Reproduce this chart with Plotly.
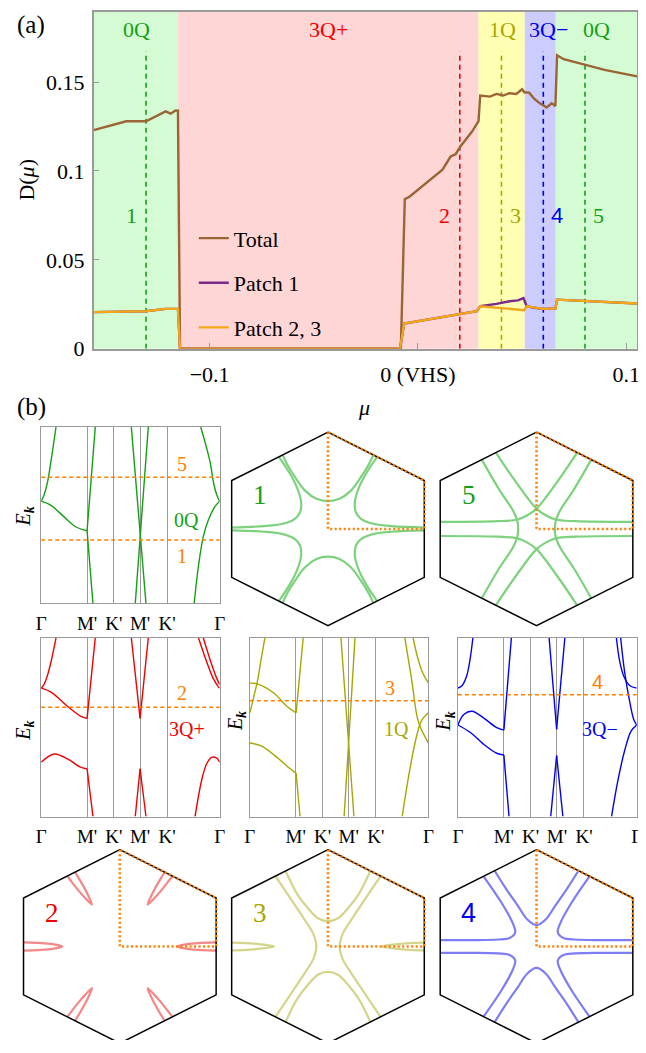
import plotly.graph_objects as go

W, H = 646, 1053          # window size
OFF = 8                   # page margin of the browser around the figure
FW, FH = W - OFF, H - OFF  # figure size
SERIF = "'Liberation Serif', 'Times New Roman', Times, 'DejaVu Serif', serif"
SANS = "'Liberation Sans', Arial, 'DejaVu Sans', sans-serif"

# ---------------- colours ----------------
FG = {"0Q": "#14a014", "3Q+": "#f00000", "1Q": "#a8a600", "3Q\u2212": "#0000f0"}
BG = {"0Q": "#d5fbd5", "3Q+": "#ffd6d6", "1Q": "#ffffb3", "3Q\u2212": "#ccccff"}
FS = {"0Q": "rgb(125,210,125)", "3Q+": "rgb(245,135,135)", "1Q": "rgb(212,212,140)", "3Q\u2212": "rgb(125,125,245)"}
ORANGE = "#ff8000"
FRAME = "#9a9a9a"
C_TOTAL, C_P1, C_P23 = "#9a6434", "#7a2a8a", "#f2a71b"

# ---------------- panel (a) data ----------------
phase_names = ["0Q", "3Q+", "1Q", "3Q\u2212", "0Q"]
phase_edges = [-0.1557, -0.1151, 0.0291, 0.0513, 0.0662, 0.1052]
phase_label_mu = [-0.1352, -0.0429, 0.0406, 0.0625, 0.0858]
mark_labels = ["1", "2", "3", "4", "5"]
mark_phase = ["0Q", "3Q+", "1Q", "3Q\u2212", "0Q"]
mark_mu = [-0.1305, 0.0201, 0.0401, 0.0602, 0.0802]
mark_label_mu = [-0.1375, 0.0126, 0.0467, 0.0668, 0.0868]
mark_top = 0.1672

total_mu = [-0.1557, -0.1400, -0.1305, -0.1211, -0.1187, -0.1164, -0.1152, -0.1142,
            -0.0082, -0.0063, -0.0039, 0.0071, 0.0118, 0.0157, 0.0181, 0.0204, 0.0259,
            0.0291, 0.0299, 0.0346, 0.0377, 0.0409, 0.0440, 0.0472, 0.0500, 0.0511,
            0.0534, 0.0558, 0.0582, 0.0618, 0.0642, 0.0660, 0.0668, 0.0700, 0.0896, 0.1052]
total_D = [0.1229, 0.1279, 0.1279, 0.1335, 0.1322, 0.1340, 0.1339, 0.0,
           0.0, 0.0841, 0.0856, 0.0961, 0.1007, 0.1081, 0.1094, 0.1137, 0.1220,
           0.1280, 0.1424, 0.1418, 0.1433, 0.1424, 0.1437, 0.1433, 0.1459, 0.1442,
           0.1440, 0.1406, 0.1383, 0.1357, 0.1380, 0.1365, 0.1650, 0.1628, 0.1568, 0.1532]

p23_mu = [-0.1557, -0.1307, -0.1211, -0.1152, -0.1142, -0.0086, -0.0066, 0.0283, 0.0299,
          0.0511, 0.0522, 0.0558, 0.0598, 0.0660, 0.0668, 0.1052]
p23_D = [0.0206, 0.0211, 0.0224, 0.0224, 0.0, 0.0, 0.0141, 0.0211, 0.0239,
         0.0217, 0.0239, 0.0230, 0.0224, 0.0226, 0.0276, 0.0254]

p1_mu = [-0.1557, -0.1307, -0.1211, -0.1152, -0.1142, -0.0086, -0.0066, 0.0283, 0.0299,
         0.0377, 0.0440, 0.0480, 0.0507, 0.0522, 0.0558, 0.0598, 0.0660, 0.0668, 0.1052]
p1_D = [0.0206, 0.0211, 0.0224, 0.0224, 0.0, 0.0, 0.0141, 0.0211, 0.0239,
        0.0252, 0.0267, 0.0272, 0.0285, 0.0239, 0.0230, 0.0224, 0.0226, 0.0276, 0.0254]

x_ticks = [-0.1, 0.0, 0.1]
x_ticktext = ["\u22120.1", "0 (VHS)", "0.1"]
y_ticks = [0.0, 0.05, 0.1, 0.15]
y_ticktext = ["0", "0.05", "0.1", "0.15"]

# ---------------- band structure data (path fraction s, energy e) ----------------
path_ticks = [0.0, 0.257, 0.407, 0.554, 0.705, 1.0]
path_labels = ["\u0393", "M'", "K'", "M'", "K'", "\u0393"]

bands_0Q = [
    ([0, 0.015, 0.033, 0.055, 0.083], [0.58, 0.612, 0.677, 0.808, 1.0]),
    ([0, 0.055, 0.128, 0.193, 0.257], [0.58, 0.556, 0.491, 0.435, 0.412]),
    ([0.257, 0.303], [0.412, 1.0]),
    ([0.257, 0.290], [0.412, 0.0]),
    ([0.505, 0.587], [1.0, 0.0]),
    ([0.600, 0.527], [1.0, 0.0]),
    ([1.0, 0.985, 0.967, 0.945, 0.894], [0.58, 0.612, 0.677, 0.808, 1.0]),
    ([1.0, 0.972, 0.936, 0.908, 0.881, 0.857], [0.58, 0.547, 0.472, 0.379, 0.211, 0.0]),
]
levels_0Q = [0.715, 0.360]

bands_3Qp = [
    ([0, 0.015, 0.033, 0.055, 0.083], [0.718, 0.737, 0.783, 0.866, 1.0]),
    ([0, 0.055, 0.147, 0.220, 0.257], [0.718, 0.696, 0.617, 0.562, 0.549]),
    ([0.257, 0.303], [0.549, 1.0]),
    ([0, 0.073, 0.147, 0.220, 0.257], [0.304, 0.350, 0.322, 0.276, 0.267]),
    ([0.257, 0.290], [0.267, 0.0]),
    ([0.505, 0.554], [1.0, 0.549]),
    ([0.554, 0.600], [0.549, 1.0]),
    ([0.527, 0.554], [0.0, 0.267]),
    ([0.554, 0.587], [0.267, 0.0]),
    ([0.881, 0.927, 0.963, 0.991, 1.0], [1.0, 0.866, 0.774, 0.728, 0.718]),
    ([0.908, 0.950, 0.982, 1.0], [1.0, 0.866, 0.777, 0.737]),
    ([0.862, 0.899, 0.927, 0.954, 0.982, 1.0], [0.0, 0.203, 0.295, 0.331, 0.328, 0.304]),
]
levels_3Qp = [0.611]

bands_1Q = [
    ([0, 0.042, 0.134, 0.207, 0.259], [0.746, 0.742, 0.691, 0.617, 0.580]),
    ([0, 0.018, 0.042, 0.061, 0.084], [0.580, 0.654, 0.755, 0.866, 1.0]),
    ([0, 0.061, 0.152, 0.226, 0.259], [0.411, 0.396, 0.331, 0.267, 0.243]),
    ([0.259, 0.299], [0.580, 1.0]),
    ([0.259, 0.281], [0.243, 0.0]),
    ([0.510, 0.583], [1.0, 0.0]),
    ([0.589, 0.528], [1.0, 0.0]),
    ([0.914, 0.941, 0.969, 1.0], [1.0, 0.884, 0.801, 0.746]),
    ([0.868, 0.905, 0.938, 0.960, 1.0], [1.0, 0.773, 0.552, 0.488, 0.411]),
    ([0.853, 0.895, 0.932, 0.960, 1.0], [0.0, 0.258, 0.442, 0.534, 0.580]),
]
levels_1Q = [0.648]

bands_3Qm = [
    ([0, 0.024, 0.048, 0.066, 0.084], [0.718, 0.733, 0.783, 0.866, 1.0]),
    ([0, 0.033, 0.079, 0.143, 0.217, 0.257], [0.512, 0.571, 0.589, 0.552, 0.497, 0.483]),
    ([0, 0.070, 0.143, 0.217, 0.257], [0.512, 0.470, 0.405, 0.354, 0.344]),
    ([0.257, 0.299], [0.483, 1.0]),
    ([0.257, 0.286], [0.344, 0.0]),
    ([0.510, 0.552], [1.0, 0.488]),
    ([0.552, 0.598], [0.488, 1.0]),
    ([0.519, 0.552], [0.0, 0.341]),
    ([0.552, 0.587], [0.341, 0.0]),
    ([0.886, 0.905, 0.928, 0.960, 1.0], [1.0, 0.866, 0.783, 0.733, 0.718]),
    ([0.910, 0.932, 0.960, 0.983, 1.0], [1.0, 0.810, 0.645, 0.543, 0.512]),
    ([0.859, 0.895, 0.932, 0.969, 1.0], [0.0, 0.203, 0.368, 0.479, 0.512]),
]
levels_3Qm = [0.681]

# ---------------- Fermi-surface data (hexagon units) ----------------
hex_u = [0, 1, 1, 0, -1, -1, 0]
hex_v = [1, 0.5, -0.5, -1, -0.5, 0.5, 1]
ibz_u = [0, 0, 1, 1, 0]
ibz_v = [1, 0, 0, 0.5, 1]

fs1_top_u = [0, 0.119, 0.238, 0.340, 0.425, 0.47]
fs1_top_v = [0.287, 0.311, 0.396, 0.532, 0.668, 0.765]
fs1_side_u = [0.51, 0.391, 0.316, 0.279, 0.289, 0.340, 0.459, 0.663, 1.0]
fs1_side_v = [0.745, 0.565, 0.413, 0.277, 0.175, 0.107, 0.056, 0.029, 0.015]

fs5_outer_u = [-0.568, -0.381, -0.245, -0.201, -0.190]
fs5_outer_v = [0.716, 0.396, 0.192, 0.090, 0.0]
fs5_cross_u = [-0.422, -0.211, 0.0, 0.095, 0.197, 0.401, 1.0]
fs5_cross_v = [0.789, 0.481, 0.209, 0.141, 0.097, 0.080, 0.073]

fs2_side_u = [1.0, 0.85, 0.72, 0.63, 0.595, 0.63, 0.72, 0.85, 1.0]
fs2_side_v = [0.042, 0.038, 0.027, 0.012, 0.0, -0.012, -0.027, -0.038, -0.042]
fs2_diag_u = [0.468, 0.418, 0.370, 0.326, 0.289, 0.360, 0.424, 0.484, 0.542]
fs2_diag_v = [0.772, 0.691, 0.608, 0.522, 0.432, 0.500, 0.572, 0.647, 0.723]

fs3_top_u = [0, 0.100, 0.219, 0.321, 0.44]
fs3_top_v = [0.262, 0.289, 0.408, 0.544, 0.78]
fs3_side_u = [-0.546, -0.376, -0.240, -0.155, -0.121]
fs3_side_v = [0.727, 0.476, 0.272, 0.136, 0.0]
fs3_pocket_u = [1.0, 0.85, 0.70, 0.60, 0.56, 0.60, 0.70, 0.85, 1.0]
fs3_pocket_v = [0.04, 0.035, 0.022, 0.008, 0.0, -0.008, -0.022, -0.035, -0.04]

fs4_top_u = [0, 0.095, 0.197, 0.316, 0.435]
fs4_top_v = [0.221, 0.279, 0.425, 0.595, 0.782]
fs4_side_u = [0.55, 0.357, 0.246, 0.221, 0.28, 0.40, 0.67, 1.0]
fs4_side_v = [0.725, 0.442, 0.238, 0.145, 0.088, 0.072, 0.066, 0.066]

# ---------------- helpers ----------------
def px(x):
    return (x - OFF) / FW


def py(y):
    return 1 - (y - OFF) / FH


fig = go.Figure()


def line(x, y, ax, color, width, dash=None, shape="linear"):
    fig.add_trace(go.Scatter(
        x=x, y=y, xaxis="x" + ax, yaxis="y" + ax, mode="lines",
        line=dict(color=color, width=width, dash=dash, shape=shape),
        hoverinfo="skip", showlegend=False))


def ann(text, x, y, size, color="black", family=SERIF, angle=0, xref="paper", yref="paper"):
    fig.add_annotation(text=text, x=x, y=y, xref=xref, yref=yref, showarrow=False,
                       font=dict(family=family, size=size, color=color),
                       textangle=angle, xanchor="center", yanchor="middle")


def mirror_u(u):
    return [-a for a in u]


def full_sym(u, v):
    return [-a for a in u[::-1]] + list(u[1:]), list(v[::-1]) + list(v[1:])


def full_sym_v(u, v):
    return list(u) + list(u[::-1][1:]), list(v) + [-b for b in v[::-1][1:]]


# ---------------- panel (a) ----------------
for lo, hi, name in zip(phase_edges[:-1], phase_edges[1:], phase_names):
    fig.add_shape(type="rect", xref="x", yref="y domain", x0=lo, x1=hi, y0=0, y1=1,
                  fillcolor=BG[name], line_width=0, layer="below")

for m, ph in zip(mark_mu, mark_phase):
    line([m, m], [0, mark_top], "", FG[ph], 1.6, dash="5px,4px")

fig.add_trace(go.Scatter(x=total_mu, y=total_D, mode="lines", name="Total",
                         line=dict(color=C_TOTAL, width=2.4), legendgroup="a", hoverinfo="skip"))
fig.add_trace(go.Scatter(x=p1_mu, y=p1_D, mode="lines", name="Patch 1",
                         line=dict(color=C_P1, width=2.4), legendgroup="b", hoverinfo="skip"))
fig.add_trace(go.Scatter(x=p23_mu, y=p23_D, mode="lines", name="Patch 2, 3",
                         line=dict(color=C_P23, width=2.4), legendgroup="c", hoverinfo="skip"))

for name, mu in zip(phase_names, phase_label_mu):
    ann(name, mu, 0.1794, 22, FG[name], xref="x", yref="y")
for lab, mu, ph in zip(mark_labels, mark_label_mu, mark_phase):
    ann(lab, mu, 0.075, 22, FG[ph], family=SANS if lab == "4" else SERIF, xref="x", yref="y")

ann("(a)", px(26.5), py(25), 25)
ann("(b)", px(26.5), py(412), 25)
ann("<i>\u03bc</i>", px(365), py(413), 22)
ann("D(<i>\u03bc</i>)", px(22), py(182), 22, angle=-90)

layout = dict(
    xaxis=dict(domain=[px(90), px(643)], range=[phase_edges[0], phase_edges[-1]], anchor="y",
               tickvals=x_ticks, ticktext=x_ticktext, ticks="inside", ticklen=6, tickcolor=FRAME,
               showline=True, mirror=True, linecolor=FRAME, linewidth=1.5, showgrid=False,
               zeroline=False, ticklabelstandoff=5,
               tickfont=dict(family=SERIF, size=22, color="black")),
    yaxis=dict(domain=[py(353), py(12)], range=[0, 0.1894], anchor="x",
               tickvals=y_ticks, ticktext=y_ticktext, ticks="inside", ticklen=6, tickcolor=FRAME,
               showline=True, mirror=True, linecolor=FRAME, linewidth=1.5, showgrid=False,
               zeroline=False, ticklabelstandoff=3,
               tickfont=dict(family=SERIF, size=22, color="black")),
)

# ---------------- band structures ----------------
band_panels = [
    ("2", (36.7, 218.3, 432.3, 611.0), bands_0Q, levels_0Q, "0Q"),
    ("3", (36.7, 218.3, 645.7, 826.7), bands_3Qp, levels_3Qp, "3Q+"),
    ("4", (249.0, 430.7, 645.7, 826.7), bands_1Q, levels_1Q, "1Q"),
    ("5", (460.7, 642.7, 645.7, 826.7), bands_3Qm, levels_3Qm, "3Q\u2212"),
]
for n, (x0, x1, y0, y1), branches, levels, ph in band_panels:
    layout["xaxis" + n] = dict(domain=[px(x0), px(x1)], range=[0, 1], anchor="y" + n,
                               tickvals=path_ticks, ticktext=path_labels, ticks="",
                               showgrid=True, gridcolor=FRAME, gridwidth=1.2,
                               showline=True, mirror=True, linecolor=FRAME, linewidth=1.2,
                               zeroline=False, ticklabelstandoff=3,
                               tickfont=dict(family=SERIF, size=19, color="black"))
    layout["yaxis" + n] = dict(domain=[py(y1), py(y0)], range=[0, 1], anchor="x" + n,
                               showticklabels=False, ticks="", showgrid=False, showline=True,
                               mirror=True, linecolor=FRAME, linewidth=1.2, zeroline=False)
    for s, e in branches:
        line(s, e, n, FG[ph], 1.4, shape="spline" if len(s) > 2 else "linear")
    for lev in levels:
        line([0, 1], [lev, lev], n, ORANGE, 1.5, dash="4px,3px")

EK = "<i>E</i><sub><b><i>k</i></b></sub>"
ann(EK, px(20), py(523), 20, angle=-90)
ann(EK, px(20), py(740), 20, angle=-90)
ann(EK, px(235), py(730), 20, angle=-90)
ann(EK, px(447), py(730), 20, angle=-90)
ann("5", px(180), py(470), 20, ORANGE)
ann("0Q", px(185), py(526), 20, FG["0Q"])
ann("1", px(180), py(563), 20, ORANGE)
ann("2", px(180), py(702), 20, ORANGE)
ann("3Q+", px(185), py(738), 20, FG["3Q+"])
ann("3", px(392), py(697), 20, ORANGE)
ann("1Q", px(398), py(738), 20, FG["1Q"])
ann("4", px(603), py(690), 20, ORANGE, family=SANS)
ann("3Q\u2212", px(605), py(738), 20, FG["3Q\u2212"])

# ---------------- Fermi surfaces ----------------
R, PAD = 98.0, 3.0
hex_panels = [
    ("6", 328.5, 535.5, "0Q", "1"),
    ("7", 540.7, 535.5, "0Q", "5"),
    ("8", 116.7, 958.3, "3Q+", "2"),
    ("9", 328.5, 958.3, "1Q", "3"),
    ("10", 540.7, 958.3, "3Q\u2212", "4"),
]
for n, cx, cy, ph, lab in hex_panels:
    top, bot = cy - R - PAD, min(cy + R + PAD, H)
    layout["xaxis" + n] = dict(domain=[px(cx - R - PAD), px(cx + R + PAD)],
                               range=[-(R + PAD) / R, (R + PAD) / R], anchor="y" + n, visible=False)
    layout["yaxis" + n] = dict(domain=[py(bot), py(top)], range=[(cy - bot) / R, (cy - top) / R],
                               anchor="x" + n, visible=False)
    ann(lab, px(cx - 69), py(cy - 34), 27, FG[ph], family=SANS if lab == "4" else SERIF)

curves = {}
u, v = full_sym(fs1_top_u, fs1_top_v)
curves["6"] = [(u, v), (u, [-b for b in v])]
for sx in (1, -1):
    for sy in (1, -1):
        curves["6"].append(([sx * a for a in fs1_side_u], [sy * b for b in fs1_side_v]))
u, v = full_sym_v(fs5_outer_u, fs5_outer_v)
curves["7"] = [(u, v), (mirror_u(u), v)]
for sx in (1, -1):
    for sy in (1, -1):
        curves["7"].append(([sx * a for a in fs5_cross_u], [sy * b for b in fs5_cross_v]))
curves["8"] = [(fs2_side_u, fs2_side_v), (mirror_u(fs2_side_u), fs2_side_v)]
for sx in (1, -1):
    for sy in (1, -1):
        curves["8"].append(([sx * a for a in fs2_diag_u], [sy * b for b in fs2_diag_v]))
u, v = full_sym(fs3_top_u, fs3_top_v)
curves["9"] = [(u, v), (u, [-b for b in v])]
u, v = full_sym_v(fs3_side_u, fs3_side_v)
curves["9"] += [(u, v), (mirror_u(u), v)]
curves["9"] += [(fs3_pocket_u, fs3_pocket_v), (mirror_u(fs3_pocket_u), fs3_pocket_v)]
u, v = full_sym(fs4_top_u, fs4_top_v)
curves["10"] = [(u, v), (u, [-b for b in v])]
for sx in (1, -1):
    for sy in (1, -1):
        curves["10"].append(([sx * a for a in fs4_side_u], [sy * b for b in fs4_side_v]))

for n, cx, cy, ph, lab in hex_panels:
    for u, v in curves[n]:
        line(u, v, n, FS[ph], 2.2, shape="spline")
    line(hex_u, hex_v, n, "black", 1.5)
    line(ibz_u, ibz_v, n, ORANGE, 2.6, dash="2px,2.5px")

fig.update_layout(
    width=FW, height=FH, margin=dict(l=0, r=0, t=0, b=0),
    paper_bgcolor="white", plot_bgcolor="white",
    font=dict(family=SERIF, size=20, color="black"),
    showlegend=True,
    legend=dict(x=px(192), y=py(220), xanchor="left", yanchor="top",
                bgcolor="rgba(0,0,0,0)", font=dict(family=SERIF, size=22, color="black"),
                tracegroupgap=13, traceorder="grouped"),
    **layout,
)

fig.write_html("out.html")
